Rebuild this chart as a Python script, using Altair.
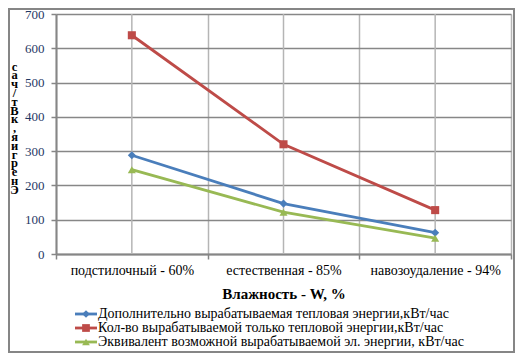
import altair as alt
import pandas as pd

cats = ["подстилочный - 60%", "естественная - 85%", "навозоудаление - 94%"]
names = [
    "Дополнительно вырабатываемая тепловая энергии,кВт/час",
    "Кол-во вырабатываемой только тепловой энергии,кВт/час",
    "Эквивалент возможной вырабатываемой эл. энергии, кВт/час",
]
s1 = [288, 147, 62]
s2 = [638, 320, 128]
s3 = [246, 122, 46]
colors = ["#4a7ebb", "#be4b48", "#98b954"]
shapes = ["diamond", "square", "triangle-up"]
y_title = ["с", "а", "ч", "/", "т", "В", "к", " ", ",", "я", "и", "г", "р", "е", "н", "Э"]

rows = []
for name, vals in zip(names, [s1, s2, s3]):
    for c, v in zip(cats, vals):
        rows.append({"cat": c, "series": name, "value": v})
df = pd.DataFrame(rows)

FONT = "'Liberation Serif', 'Times New Roman', serif"
W, H = 455, 240

xdef = alt.X(
    "cat:N", sort=cats,
    scale=alt.Scale(type="band", paddingInner=0, paddingOuter=0),
    bandPosition=0.5,
    axis=alt.Axis(
        tickBand="extent", grid=True, gridColor="#b5b5b5", gridWidth=1.5,
        domainColor="#868686", domainWidth=2, tickColor="#868686", tickSize=5,
        tickWidth=1.5, labelFont=FONT, labelFontSize=14, labelColor="black",
        labelAngle=0, labelPadding=4, title="Влажность - W, %", titleFont=FONT,
        titleFontSize=15, titleFontWeight="bold", titleColor="black", titlePadding=9,
    ),
)
ydef = alt.Y(
    "value:Q",
    scale=alt.Scale(domain=[0, 700], nice=False),
    axis=alt.Axis(
        values=list(range(0, 701, 100)), grid=True, gridColor="#878787", gridWidth=1.5,
        domainColor="#868686", domainWidth=2, tickColor="#868686", tickSize=5,
        tickWidth=1.5, labelFont=FONT, labelFontSize=13, labelColor="#1f3864",
        labelPadding=7, title=y_title, titleAngle=0, titleX=-42, titleY=52,
        titleAlign="center", titleBaseline="middle", titleLineHeight=8.8,
        titleFont=FONT, titleFontSize=12.5, titleFontWeight="bold", titleColor="black",
    ),
)
cdef = alt.Color("series:N", scale=alt.Scale(domain=names, range=colors), legend=None)

center_grid = alt.Chart(pd.DataFrame({"cat": cats})).mark_rule(
    color="#b5b5b5", strokeWidth=1.5
).encode(x=xdef)

base = alt.Chart(df).encode(x=xdef, y=ydef, color=cdef)
lines = base.mark_line(strokeWidth=2.8)
points = base.mark_point(filled=True, size=65, opacity=1).encode(
    shape=alt.Shape("series:N", scale=alt.Scale(domain=names, range=shapes), legend=None)
)

border = alt.Chart(pd.DataFrame({"a": [0]})).mark_rect(
    fillOpacity=0, stroke="#868686", strokeWidth=2
).encode(x=alt.value(-47), x2=alt.value(458), y=alt.value(-5), y2=alt.value(338))

legend_layers = []
for i, (name, col, shp) in enumerate(zip(names, colors, shapes)):
    yy = 300 + 14 * i
    d = pd.DataFrame({"series": [name]})
    legend_layers.append(
        alt.Chart(d).mark_rule(color=col, strokeWidth=2.8).encode(
            x=alt.value(19), x2=alt.value(41), y=alt.value(yy))
    )
    legend_layers.append(
        alt.Chart(d).mark_point(shape=shp, filled=True, size=60, color=col, opacity=1).encode(
            x=alt.value(30), y=alt.value(yy))
    )
    legend_layers.append(
        alt.Chart(d).mark_text(align="left", baseline="middle", font=FONT, fontSize=14,
                               color="black").encode(
            x=alt.value(42), y=alt.value(yy), text="series:N")
    )

chart = alt.layer(center_grid, lines, points, border, *legend_layers).properties(
    width=W, height=H,
    autosize=alt.AutoSizeParams(type="none"),
    padding={"left": 48, "top": 6, "right": 4, "bottom": 100},
    background="white",
).configure_view(stroke=None)

chart.save("out.html", embed_options={"renderer": "svg", "actions": False})
